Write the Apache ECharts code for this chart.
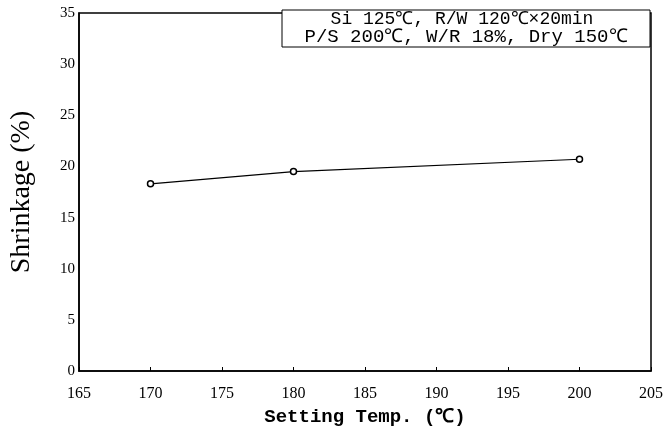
<!DOCTYPE html>
<html>
<head>
<meta charset="utf-8">
<script src="https://cdn.jsdelivr.net/npm/echarts@6/dist/echarts.min.js"></script>
<style>
  html, body { margin: 0; padding: 0; background: #fff; }
  #chart { width: 669px; height: 437px; }
</style>
</head>
<body>
<div id="chart"></div>
<script>
// 数据
const temps = [170, 180, 200]
const shrinkage = [18.3, 19.5, 20.7]
const noteLines = ['Si 125℃, R/W 120℃×20min', 'P/S 200℃, W/R 18%, Dry 150℃']

const serif = '"Liberation Serif", "DejaVu Serif", serif'
const mono = '"Liberation Mono", monospace'

const chart = echarts.init(document.getElementById('chart'), null, { renderer: 'canvas' })

chart.setOption({
  backgroundColor: '#fff',
  animation: false,
  grid: {
    left: 79, right: 18, top: 13, bottom: 66,
    outerBoundsMode: 'none',
    containLabel: false,
    show: true, borderColor: '#000', borderWidth: 1.5
  },
  xAxis: {
    type: 'value',
    min: 165, max: 205, interval: 5,
    name: 'Setting Temp. (℃)',
    nameLocation: 'middle',
    nameGap: 37,
    nameTextStyle: { fontFamily: mono, fontWeight: 'bold', fontSize: 19, color: '#000' },
    axisLine: { lineStyle: { color: '#000', width: 1.5 } },
    axisTick: { inside: true, length: 4, lineStyle: { color: '#000' } },
    axisLabel: { fontFamily: serif, fontSize: 16, color: '#000', margin: 15 },
    splitLine: { show: false }
  },
  yAxis: {
    type: 'value',
    min: 0, max: 35, interval: 5,
    name: 'Shrinkage (%)',
    nameLocation: 'middle',
    nameGap: 43,
    nameTextStyle: { fontFamily: serif, fontSize: 28, color: '#000' },
    axisLine: { show: true, lineStyle: { color: '#000', width: 1.5 } },
    axisTick: { show: false },
    axisLabel: { fontFamily: serif, fontSize: 15, color: '#000', margin: 4 },
    splitLine: { show: false }
  },
  graphic: [
    {
      type: 'rect',
      shape: { x: 282, y: 10, width: 368, height: 37 },
      style: { fill: '#fff', stroke: '#000', lineWidth: 1 },
      z: 10
    },
    {
      type: 'text',
      x: 462, y: 19,
      style: { text: noteLines[0], fontFamily: mono, fontSize: 18, fill: '#000', align: 'center', verticalAlign: 'middle' },
      z: 11
    },
    {
      type: 'text',
      x: 466, y: 37,
      style: { text: noteLines[1], fontFamily: mono, fontSize: 19, fill: '#000', align: 'center', verticalAlign: 'middle' },
      z: 11
    }
  ],
  series: [
    {
      type: 'line',
      data: temps.map((t, i) => [t, shrinkage[i]]),
      symbol: 'circle',
      symbolSize: 6,
      itemStyle: { color: '#fff', borderColor: '#000', borderWidth: 1.5 },
      lineStyle: { color: '#000', width: 1.2 }
    }
  ]
})
</script>
</body>
</html>
